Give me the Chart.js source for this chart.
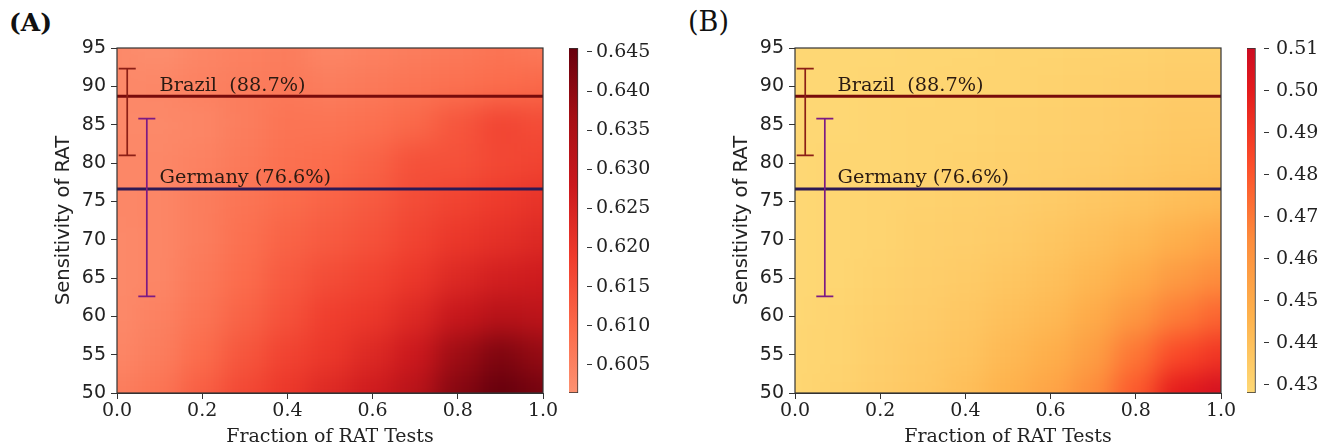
<!DOCTYPE html>
<html><head><meta charset="utf-8">
<script src="https://cdn.jsdelivr.net/npm/chart.js@4.4.1/dist/chart.umd.min.js"></script>
<style>
html,body{margin:0;padding:0;background:#fff;width:1334px;height:448px;overflow:hidden;}
.box{position:absolute;top:0;height:448px;}
.lbl{position:absolute;font-family:"DejaVu Serif";line-height:30px;color:#111;}
</style></head><body>
<div class="lbl" style="left:9px;top:8px;font-size:25px;font-weight:bold">(A)</div>
<div class="lbl" style="left:688px;top:7px;font-size:27px">(B)</div>
<div class="box" style="left:0;width:560px"><canvas id="hA" width="560" height="448"></canvas></div>
<div class="box" style="left:560px;width:107px"><canvas id="cA" width="107" height="448"></canvas></div>
<div class="box" style="left:678px;width:560px"><canvas id="hB" width="560" height="448"></canvas></div>
<div class="box" style="left:1238px;width:96px"><canvas id="cB" width="96" height="448"></canvas></div>
<script>
// ---------- data ----------
const FRACTION = [0.0, 0.1, 0.2, 0.3, 0.4, 0.5, 0.6, 0.7, 0.8, 0.9, 1.0];
const SENSITIVITY = [95, 90, 85, 80, 75, 70, 65, 60, 55, 50];
const X_TICKS = [0.0, 0.2, 0.4, 0.6, 0.8, 1.0];
const Y_TICKS = [50, 55, 60, 65, 70, 75, 80, 85, 90, 95];
const CB_A_TICKS = [0.605, 0.610, 0.615, 0.620, 0.625, 0.630, 0.635, 0.640, 0.645];
const CB_B_TICKS = [0.43, 0.44, 0.45, 0.46, 0.47, 0.48, 0.49, 0.50, 0.51];
const RANGE_A = [0.6014, 0.6455];
const RANGE_B = [0.4280, 0.5102];

// panel A rows (sensitivity 95 ... 50), columns = FRACTION
const a95 = [0.6032,0.6023,0.6040,0.6049,0.6058,0.6040,0.6049,0.6058,0.6067,0.6076,0.6067];
const a90 = [0.6032,0.6036,0.6049,0.6058,0.6067,0.6058,0.6067,0.6076,0.6085,0.6093,0.6102];
const a85 = [0.6032,0.6032,0.6040,0.6058,0.6076,0.6076,0.6085,0.6102,0.6137,0.6168,0.6155];
const a80 = [0.6036,0.6036,0.6049,0.6067,0.6085,0.6093,0.6111,0.6146,0.6146,0.6164,0.6173];
const a75 = [0.6036,0.6040,0.6058,0.6076,0.6093,0.6111,0.6129,0.6155,0.6173,0.6190,0.6208];
const a70 = [0.6032,0.6040,0.6058,0.6085,0.6111,0.6129,0.6146,0.6173,0.6199,0.6217,0.6235];
const a65 = [0.6032,0.6040,0.6067,0.6093,0.6129,0.6155,0.6173,0.6199,0.6235,0.6261,0.6270];
const a60 = [0.6032,0.6049,0.6076,0.6111,0.6146,0.6182,0.6199,0.6235,0.6287,0.6323,0.6314];
const a55 = [0.6040,0.6058,0.6093,0.6137,0.6173,0.6199,0.6235,0.6279,0.6376,0.6420,0.6390];
const a50 = [0.6058,0.6076,0.6120,0.6164,0.6199,0.6235,0.6270,0.6323,0.6411,0.6455,0.6433];

// panel B rows
const b95 = [0.4288,0.4288,0.4288,0.4296,0.4296,0.4305,0.4305,0.4313,0.4313,0.4321,0.4321];
const b90 = [0.4288,0.4288,0.4296,0.4296,0.4305,0.4305,0.4313,0.4321,0.4329,0.4338,0.4338];
const b85 = [0.4288,0.4288,0.4296,0.4305,0.4305,0.4313,0.4321,0.4329,0.4338,0.4354,0.4354];
const b80 = [0.4288,0.4296,0.4296,0.4305,0.4313,0.4321,0.4329,0.4338,0.4354,0.4370,0.4379];
const b75 = [0.4288,0.4296,0.4305,0.4313,0.4321,0.4329,0.4346,0.4362,0.4379,0.4403,0.4420];
const b70 = [0.4288,0.4296,0.4305,0.4321,0.4329,0.4346,0.4370,0.4395,0.4428,0.4477,0.4527];
const b65 = [0.4288,0.4296,0.4313,0.4329,0.4346,0.4370,0.4395,0.4436,0.4494,0.4576,0.4642];
const b60 = [0.4288,0.4305,0.4321,0.4338,0.4362,0.4395,0.4428,0.4494,0.4592,0.4691,0.4757];
const b55 = [0.4296,0.4305,0.4329,0.4354,0.4379,0.4428,0.4477,0.4559,0.4707,0.4839,0.4905];
const b50 = [0.4296,0.4313,0.4338,0.4362,0.4403,0.4461,0.4527,0.4642,0.4790,0.5003,0.5069];

const COUNTRY_LABELS = ['Brazil  (88.7%)', 'Germany (76.6%)'];
const COUNTRY_SENS = [88.7, 76.6];
const CI_X = [0.024, 0.070];
const CI_LOW = [81.0, 62.6];
const CI_HIGH = [92.3, 85.8];

const GRID_A = [a95,a90,a85,a80,a75,a70,a65,a60,a55,a50];
const GRID_B = [b95,b90,b85,b80,b75,b70,b65,b60,b55,b50];

// ---------- style ----------
const STOPS_A = [[0,'#fc9272'],[0.19,'#fb6a4a'],[0.395,'#ef3b2c'],[0.6,'#cb181d'],[0.8,'#a50f15'],[1,'#67000d']];
const STOPS_B = [[0,'#fed976'],[0.22,'#feb24c'],[0.44,'#fd8d3c'],[0.66,'#fc4e2a'],[0.88,'#e31a1c'],[1,'#cc0c22']];
const LINE_COLORS = ['#780b0b', '#2c1955'];
const CI_COLORS = ['#8c1f16', '#7d1a84'];
const CAP = 0.02;
const LABEL_X = 0.1, LABEL_DY = 0.75;
const BLUR = 13;
const SERIF = '"DejaVu Serif", serif';
const SANS = '"DejaVu Sans", sans-serif';
const FS = 19;
const INK = '#222';
const AXIS = '#333';

function hex(c){return [parseInt(c.slice(1,3),16),parseInt(c.slice(3,5),16),parseInt(c.slice(5,7),16)];}
function cmap(v, range, stops){
  let t = (v - range[0]) / (range[1] - range[0]);
  t = Math.max(0, Math.min(1, t));
  for (let i = 1; i < stops.length; i++) {
    if (t <= stops[i][0]) {
      const [t0,c0] = stops[i-1], [t1,c1] = stops[i];
      const f = (t - t0) / (t1 - t0), A = hex(c0), B = hex(c1);
      return 'rgb(' + A.map((a,k)=>Math.round(a + (B[k]-a)*f)).join(',') + ')';
    }
  }
  return stops[stops.length-1][1];
}

function smooth(chart){
  const {ctx, chartArea:a, canvas} = chart;
  const dpr = chart.currentDevicePixelRatio || 1;
  const x0 = Math.round(a.left*dpr), y0 = Math.round(a.top*dpr);
  const w = Math.round(a.right*dpr) - x0, h = Math.round(a.bottom*dpr) - y0;
  const P = 60, e = 2;
  const src = document.createElement('canvas'); src.width = w; src.height = h;
  src.getContext('2d').drawImage(canvas, x0, y0, w, h, 0, 0, w, h);
  const pc = document.createElement('canvas'); pc.width = w + 2*P; pc.height = h + 2*P;
  const g = pc.getContext('2d'); g.imageSmoothingEnabled = false;
  g.drawImage(src, P, P);
  g.drawImage(src, e, 0, 1, h, 0, P, P + e, h);
  g.drawImage(src, w-1-e, 0, 1, h, P + w - e, P, P + e, h);
  g.drawImage(src, 0, e, w, 1, P, 0, w, P + e);
  g.drawImage(src, 0, h-1-e, w, 1, P, P + h - e, w, P + e);
  g.drawImage(src, e, e, 1, 1, 0, 0, P + e, P + e);
  g.drawImage(src, w-1-e, e, 1, 1, P + w - e, 0, P + e, P + e);
  g.drawImage(src, e, h-1-e, 1, 1, 0, P + h - e, P + e, P + e);
  g.drawImage(src, w-1-e, h-1-e, 1, 1, P + w - e, P + h - e, P + e, P + e);
  ctx.save();
  ctx.setTransform(1,0,0,1,0,0);
  ctx.beginPath(); ctx.rect(x0, y0, w, h); ctx.clip();
  ctx.filter = 'blur(' + (BLUR*dpr) + 'px)';
  ctx.drawImage(pc, x0 - P, y0 - P);
  ctx.restore();
}

const heatPlugin = {
  id: 'heatFx',
  afterDatasetDraw(chart, args){ if (args.index === 0) smooth(chart); },
  afterDatasetsDraw(chart){
    const {ctx, chartArea:a, scales:{x, y}} = chart;
    ctx.save();
    ctx.font = '19.3px ' + SERIF;
    ctx.fillStyle = '#2a1a12';
    ctx.textAlign = 'left'; ctx.textBaseline = 'alphabetic';
    COUNTRY_LABELS.forEach((t,i) => ctx.fillText(t, x.getPixelForValue(LABEL_X), y.getPixelForValue(COUNTRY_SENS[i] + LABEL_DY)));
    ctx.strokeStyle = AXIS; ctx.lineWidth = 1.2;
    ctx.strokeRect(a.left, a.top, a.right - a.left, a.bottom - a.top);
    ctx.restore();
  }
};

function heatmap(id, grid, range, stops){
  const cells = [], fills = [];
  const half = Math.abs(SENSITIVITY[0] - SENSITIVITY[1]) / 2;
  grid.forEach((row, r) => row.forEach((v, c) => {
    cells.push({x: FRACTION[c], y: [SENSITIVITY[r] - half, SENSITIVITY[r] + half]});
    fills.push(cmap(v, range, stops));
  }));
  const datasets = [{type:'bar', data:cells, backgroundColor:fills, borderWidth:0,
    barPercentage:1, categoryPercentage:1, grouped:false, order:10}];
  COUNTRY_SENS.forEach((s,i) => datasets.push({type:'line', data:[{x:0,y:s},{x:1,y:s}],
    borderColor:LINE_COLORS[i], borderWidth:3, pointRadius:0, order:2}));
  CI_X.forEach((cx,i) => datasets.push({type:'line', data:[
      {x:cx-CAP,y:CI_LOW[i]},{x:cx+CAP,y:CI_LOW[i]},{x:cx,y:null},
      {x:cx,y:CI_LOW[i]},{x:cx,y:CI_HIGH[i]},{x:cx,y:null},
      {x:cx-CAP,y:CI_HIGH[i]},{x:cx+CAP,y:CI_HIGH[i]}],
    borderColor:CI_COLORS[i], borderWidth:1.7, pointRadius:0, spanGaps:false, order:1}));
  new Chart(document.getElementById(id), {
    type:'bar',
    data:{datasets},
    plugins:[heatPlugin],
    options:{
      responsive:false, animation:false, events:[],
      layout:{padding:{left:0, top:48, right:17, bottom:0}},
      plugins:{legend:{display:false}, tooltip:{enabled:false}},
      scales:{
        x:{type:'linear', min:0, max:1, offset:false,
          afterBuildTicks(s){ s.ticks = X_TICKS.map(v => ({value:v})); },
          ticks:{callback:v => Number(v).toFixed(1), font:{family:SERIF, size:FS}, color:INK, padding:1, maxRotation:0},
          grid:{display:true, drawOnChartArea:false, offset:false, tickLength:6, tickColor:AXIS, color:AXIS},
          border:{display:true, color:AXIS, width:1},
          title:{display:true, text:'Fraction of RAT Tests', font:{family:SERIF, size:FS}, color:INK, padding:{top:0, bottom:0}},
          afterFit(s){ s.height = 55; }
        },
        y:{type:'linear', min:50, max:95,
          afterBuildTicks(s){ s.ticks = Y_TICKS.map(v => ({value:v})); },
          ticks:{callback:v => String(v), font:{family:SANS, size:FS}, color:INK, padding:5},
          grid:{display:true, drawOnChartArea:false, tickLength:6, tickColor:AXIS, color:AXIS},
          border:{display:true, color:AXIS, width:1},
          title:{display:true, text:'Sensitivity of RAT', font:{family:SANS, size:19.5}, color:INK, padding:{top:52, bottom:0}},
          afterFit(s){ s.width = 117; }
        }
      }
    }
  });
}

function colorbar(id, range, stops, ticks, digits, axisWidth, pad){
  new Chart(document.getElementById(id), {
    type:'bar',
    data:{labels:['cb'], datasets:[{data:[[range[0], range[1]]],
      backgroundColor(ctx){
        const ch = ctx.chart; if (!ch.chartArea) return stops[0][1];
        const ys = ch.scales.y;
        const gr = ch.ctx.createLinearGradient(0, ys.getPixelForValue(range[0]), 0, ys.getPixelForValue(range[1]));
        stops.forEach(([t,c]) => gr.addColorStop(t, c));
        return gr;
      },
      borderColor:AXIS, borderWidth:1, borderSkipped:false, barPercentage:1, categoryPercentage:1}]},
    options:{
      responsive:false, animation:false, events:[],
      layout:{padding:{left:9, top:48, right:0, bottom:55}},
      plugins:{legend:{display:false}, tooltip:{enabled:false}},
      scales:{
        x:{display:false, offset:false},
        y:{position:'right', min:range[0], max:range[1],
          afterBuildTicks(s){ s.ticks = ticks.map(v => ({value:v})); },
          ticks:{callback:v => Number(v).toFixed(digits), font:{family:SERIF, size:FS}, color:INK, padding:pad},
          grid:{display:true, drawOnChartArea:false, tickLength:5, tickColor:AXIS, color:AXIS},
          border:{display:false},
          afterFit(s){ s.width = axisWidth; }
        }
      }
    }
  });
}

heatmap('hA', GRID_A, RANGE_A, STOPS_A);
colorbar('cA', RANGE_A, STOPS_A, CB_A_TICKS, 3, 80, 4);
heatmap('hB', GRID_B, RANGE_B, STOPS_B);
colorbar('cB', RANGE_B, STOPS_B, CB_B_TICKS, 2, 70, 7);
</script>
</body></html>
